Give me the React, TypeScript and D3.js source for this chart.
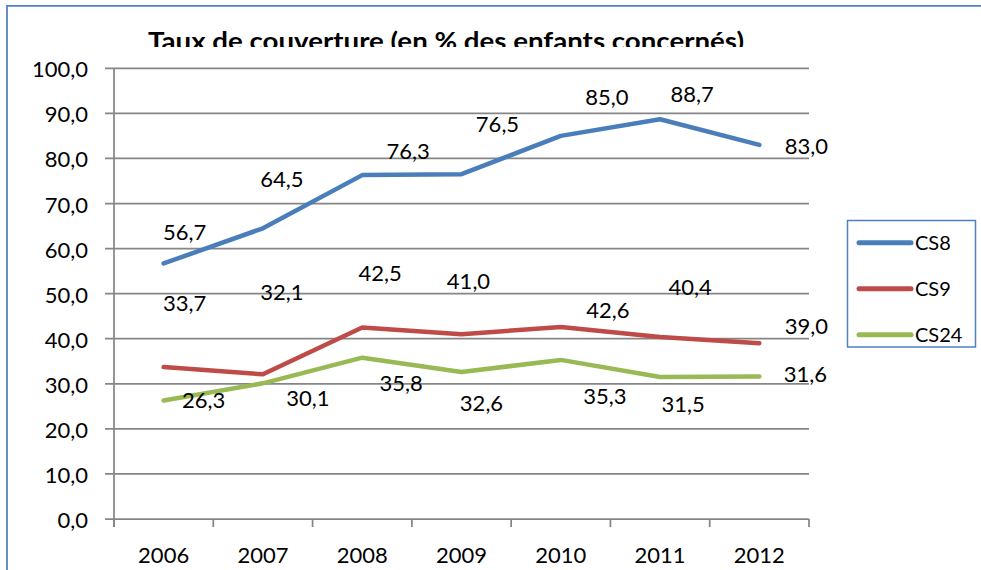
import React from "react";
import * as d3 from "d3";

const years = ["2006", "2007", "2008", "2009", "2010", "2011", "2012"];
const cs8 = [56.7, 64.5, 76.3, 76.5, 85.0, 88.7, 83.0];
const cs9 = [33.7, 32.1, 42.5, 41.0, 42.6, 40.4, 39.0];
const cs24 = [26.3, 30.1, 35.8, 32.6, 35.3, 31.5, 31.6];
const yTicks = [0, 10, 20, 30, 40, 50, 60, 70, 80, 90, 100];
const seriesNames = ["CS8", "CS9", "CS24"];
const title = "Taux de couverture (en % des enfants concernés)";

// manual label placement (offset from point, px) as in the original
const labelOffsets8 = [[21, -31], [19, -49], [46, -24], [36, -50], [46, -39], [32, -25], [47, 1]];
const labelOffsets9 = [[21, -64], [19, -82], [18, -54], [7, -53], [47, -17], [30, -50], [47, -17]];
const labelOffsets24 = [[40, 0], [45, 15], [39, 25], [20, 31], [44, 36], [23, 27], [46, -2]];

const colors = ["#4a7ebb", "#be4b48", "#98b954"];
const FONT = "Lato, 'Open Sans', sans-serif";

export default function App() {
  const W = 981, H = 570;
  const x = d3.scaleBand().domain(years).range([114, 809]).padding(0);
  const cx = (y: string) => (x(y) as number) + x.bandwidth() / 2;
  const y = d3.scaleLinear().domain([0, 100]).range([519, 68.3]);
  const fmt = (v: number) => v.toFixed(1).replace(".", ",");

  const series = [cs8, cs9, cs24];
  const offsets = [labelOffsets8, labelOffsets9, labelOffsets24];
  const line = d3.line<number>().x((_, i) => cx(years[i])).y((d) => y(d));

  const boundaries = d3.range(years.length + 1).map((i) => 114 + i * x.bandwidth());

  return (
    <svg width={W} height={H} style={{ position: "absolute", left: 0, top: 0, background: "#fff" }}
      fontFamily={FONT}>
      <defs>
        <clipPath id="titleClip">
          <rect x={0} y={0} width={W} height={47} />
        </clipPath>
      </defs>
      <rect x={0} y={0} width={W} height={H} fill="#fff" />
      {/* outer frame */}
      <path d={`M7,${H + 5} V5.75 H${W + 5}`} fill="none" stroke="#4f81bd" strokeWidth={1.75} />
      {/* title */}
      <text x={446} y={50} textAnchor="middle" fontWeight="bold" fontSize={25} fill="#000"
        textLength={596} lengthAdjust="spacingAndGlyphs" clipPath="url(#titleClip)">{title}</text>

      {/* gridlines and y ticks */}
      {yTicks.map((t) => (
        <g key={t}>
          <line x1={105} x2={809} y1={y(t)} y2={y(t)} stroke="#868686" strokeWidth={1.75} />
          <text x={88} y={y(t) + 9} textAnchor="end" fontSize={22} fill="#000">{fmt(t)}</text>
        </g>
      ))}
      {/* y axis */}
      <line x1={114} x2={114} y1={y(100)} y2={527} stroke="#868686" strokeWidth={1.75} />
      {/* x ticks */}
      {boundaries.map((b, i) => (
        <line key={i} x1={b} x2={b} y1={519} y2={527} stroke="#868686" strokeWidth={1.75} />
      ))}
      {years.map((yr) => (
        <text key={yr} x={cx(yr)} y={563} textAnchor="middle" fontSize={22} fill="#000">{yr}</text>
      ))}

      {/* lines */}
      {series.map((s, si) => (
        <path key={si} d={line(s) as string} fill="none" stroke={colors[si]} strokeWidth={4.5}
          strokeLinecap="round" strokeLinejoin="round" />
      ))}
      {/* labels */}
      {series.map((s, si) =>
        s.map((v, i) => (
          <text key={`${si}-${i}`} x={cx(years[i]) + offsets[si][i][0]} y={y(v) + offsets[si][i][1]}
            dy="0.36em" textAnchor="middle" fontSize={22} fill="#000">{fmt(v)}</text>
        ))
      )}

      {/* legend */}
      <rect x={847.5} y={220.5} width={128} height={126.5} fill="#fff" stroke="#4f81bd" strokeWidth={1.5} />
      {seriesNames.map((n, i) => (
        <g key={n}>
          <line x1={859} x2={911} y1={242.7 + i * 46} y2={242.7 + i * 46} stroke={colors[i]} strokeWidth={5}
            strokeLinecap="round" />
          <text x={915} y={242.7 + i * 46 + 7} fontSize={20} fill="#000">{n}</text>
        </g>
      ))}
    </svg>
  );
}
